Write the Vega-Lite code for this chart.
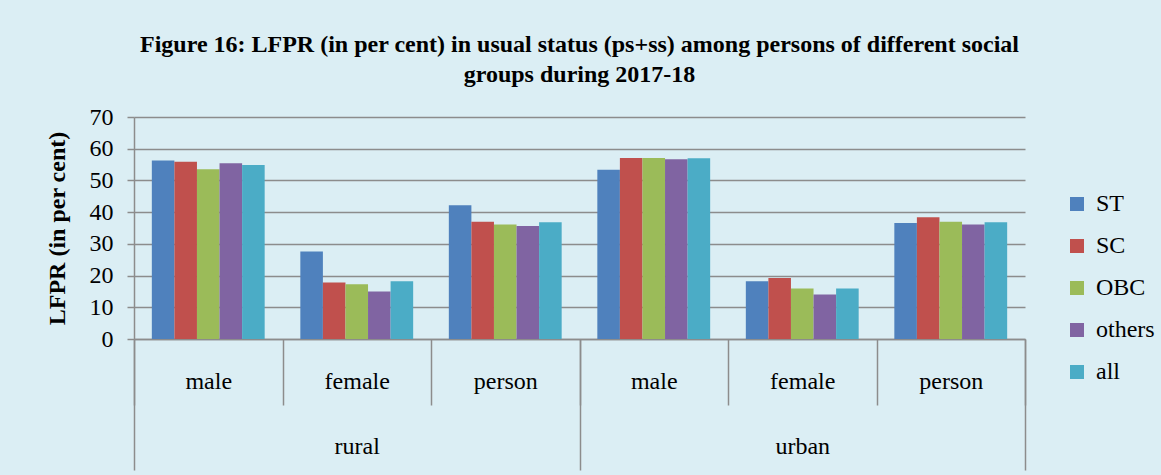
{
  "$schema": "https://vega.github.io/schema/vega-lite/v6.json",
  "width": 891,
  "height": 222,
  "autosize": {"type": "none"},
  "padding": {"left": 134, "top": 117, "right": 136, "bottom": 136},
  "background": "#DBEEF4",
  "config": {"view": {"stroke": null}, "font": "Liberation Serif"},
  "title": {
    "text": ["Figure 16: LFPR (in per cent) in usual status (ps+ss) among persons of different social", "groups during 2017-18"],
    "font": "Liberation Serif",
    "fontSize": 24,
    "fontWeight": "bold",
    "color": "black",
    "anchor": "middle",
    "lineHeight": 30,
    "offset": 18
  },
  "data": {
    "values": [
      {"area": "rural", "cat": "rural-male", "group": "ST", "value": 56.3},
      {"area": "rural", "cat": "rural-male", "group": "SC", "value": 55.9},
      {"area": "rural", "cat": "rural-male", "group": "OBC", "value": 53.5},
      {"area": "rural", "cat": "rural-male", "group": "others", "value": 55.4},
      {"area": "rural", "cat": "rural-male", "group": "all", "value": 54.9},
      {"area": "rural", "cat": "rural-female", "group": "ST", "value": 27.6},
      {"area": "rural", "cat": "rural-female", "group": "SC", "value": 17.8},
      {"area": "rural", "cat": "rural-female", "group": "OBC", "value": 17.3},
      {"area": "rural", "cat": "rural-female", "group": "others", "value": 15.0},
      {"area": "rural", "cat": "rural-female", "group": "all", "value": 18.2},
      {"area": "rural", "cat": "rural-person", "group": "ST", "value": 42.2},
      {"area": "rural", "cat": "rural-person", "group": "SC", "value": 37.0},
      {"area": "rural", "cat": "rural-person", "group": "OBC", "value": 36.1},
      {"area": "rural", "cat": "rural-person", "group": "others", "value": 35.6},
      {"area": "rural", "cat": "rural-person", "group": "all", "value": 36.8},
      {"area": "urban", "cat": "urban-male", "group": "ST", "value": 53.4},
      {"area": "urban", "cat": "urban-male", "group": "SC", "value": 57.1},
      {"area": "urban", "cat": "urban-male", "group": "OBC", "value": 57.1},
      {"area": "urban", "cat": "urban-male", "group": "others", "value": 56.7},
      {"area": "urban", "cat": "urban-male", "group": "all", "value": 57.0},
      {"area": "urban", "cat": "urban-female", "group": "ST", "value": 18.2},
      {"area": "urban", "cat": "urban-female", "group": "SC", "value": 19.2},
      {"area": "urban", "cat": "urban-female", "group": "OBC", "value": 15.9},
      {"area": "urban", "cat": "urban-female", "group": "others", "value": 14.0},
      {"area": "urban", "cat": "urban-female", "group": "all", "value": 15.9},
      {"area": "urban", "cat": "urban-person", "group": "ST", "value": 36.6},
      {"area": "urban", "cat": "urban-person", "group": "SC", "value": 38.4},
      {"area": "urban", "cat": "urban-person", "group": "OBC", "value": 37.0},
      {"area": "urban", "cat": "urban-person", "group": "others", "value": 36.1},
      {"area": "urban", "cat": "urban-person", "group": "all", "value": 36.8}
    ]
  },
  "layer": [
    {
      "mark": {"type": "bar"},
      "encoding": {
        "x": {
          "field": "cat",
          "type": "nominal",
          "sort": null,
          "scale": {"paddingInner": 0, "paddingOuter": 0},
          "axis": {
            "orient": "bottom",
            "title": null,
            "labelExpr": "split(datum.value, '-')[1]",
            "labelAngle": 0,
            "labelFont": "Liberation Serif",
            "labelFontSize": 24,
            "labelColor": "black",
            "labelPadding": -36,
            "labelOverlap": false,
            "tickBand": "extent",
            "tickSize": 66,
            "tickColor": "#8C8C8C",
            "tickWidth": 1.5,
            "domainColor": "#8C8C8C",
            "domainWidth": 1.5
          }
        },
        "xOffset": {
          "field": "group",
          "type": "nominal",
          "sort": ["ST", "SC", "OBC", "others", "all"],
          "scale": {"paddingInner": 0, "paddingOuter": 0.79}
        },
        "y": {
          "field": "value",
          "type": "quantitative",
          "scale": {"domain": [0, 70]},
          "axis": {
            "values": [0, 10, 20, 30, 40, 50, 60, 70],
            "title": "LFPR (in per cent)",
            "titleFont": "Liberation Serif",
            "titleFontSize": 24,
            "titleFontWeight": "bold",
            "titleColor": "black",
            "titlePadding": 20,
            "labelFont": "Liberation Serif",
            "labelFontSize": 24,
            "labelColor": "black",
            "labelPadding": 14,
            "labelOverlap": false,
            "labelBound": false,
            "tickSize": 7,
            "tickColor": "#8C8C8C",
            "tickWidth": 1.5,
            "domainColor": "#8C8C8C",
            "domainWidth": 1.5,
            "grid": true,
            "gridColor": "#8C8C8C",
            "gridWidth": 1.5
          }
        },
        "color": {
          "field": "group",
          "type": "nominal",
          "scale": {
            "domain": ["ST", "SC", "OBC", "others", "all"],
            "range": ["#4F81BD", "#C0504D", "#9BBB59", "#8064A2", "#4BACC6"]
          },
          "legend": {
            "title": null,
            "orient": "none",
            "legendX": 931,
            "legendY": 75,
            "symbolType": "square",
            "symbolSize": 196,
            "symbolStrokeWidth": 0,
            "labelFont": "Liberation Serif",
            "labelFontSize": 24,
            "labelColor": "black",
            "labelOffset": 7,
            "rowPadding": 18
          }
        }
      }
    },
    {
      "mark": {"type": "bar", "opacity": 0},
      "encoding": {
        "x": {
          "field": "area",
          "type": "nominal",
          "sort": null,
          "scale": {"paddingInner": 0, "paddingOuter": 0},
          "axis": {
            "orient": "bottom",
            "title": null,
            "labelAngle": 0,
            "labelFont": "Liberation Serif",
            "labelFontSize": 24,
            "labelColor": "black",
            "labelPadding": -36,
            "labelOverlap": false,
            "tickBand": "extent",
            "tickSize": 131,
            "tickColor": "#8C8C8C",
            "tickWidth": 1.5,
            "domain": false
          }
        }
      }
    }
  ],
  "resolve": {"scale": {"x": "independent"}}
}
